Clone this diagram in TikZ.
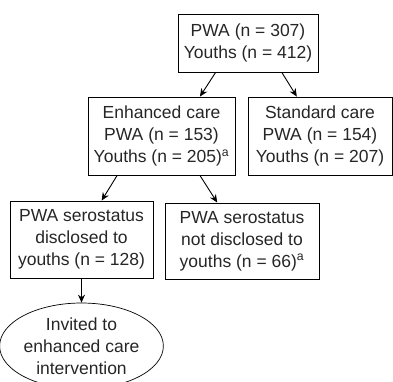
\documentclass[tikz,border=0pt]{standalone}
\usepackage{fontspec}
\setmainfont{Liberation Sans}
\usetikzlibrary{arrows.meta,calc,shapes.geometric}
\begin{document}
\begin{tikzpicture}[x=1pt,y=-1pt,
  every node/.style={font=\fontsize{17.5}{22}\selectfont, align=center, inner sep=0pt, text=black!85},
  box/.style={draw, line width=0.9pt, rectangle},
  oval/.style={draw, line width=0.7pt, ellipse},
  arr/.style={line width=0.9pt, -{Stealth[length=8pt,width=7pt]}}]
\useasboundingbox (0,0) rectangle (393,381);
\begin{scope}
\clip (0,0) rectangle (393,381);
\node[box, minimum width=140pt, minimum height=58pt] (top) at (248,43) {PWA (n = 307)\\Youths (n = 412)};
\node[box, minimum width=147pt, minimum height=78pt] (enh) at (161.5,136) {Enhanced care\\PWA (n = 153)\\Youths (n = 205)\textsuperscript{a}};
\node[box, minimum width=144pt, minimum height=78pt] (std) at (320,136) {Standard care\\PWA (n = 154)\\Youths (n = 207)};
\node[box, minimum width=143pt, minimum height=77pt] (dis) at (81.5,239.5) {PWA serostatus\\disclosed to\\youths (n = 128)};
\node[box, minimum width=154pt, minimum height=76pt] (nodis) at (242,241) {PWA serostatus\\not disclosed to\\youths (n = 66)\textsuperscript{a}};
\node[oval, minimum width=143pt, minimum height=86pt] (inv) at (81.5,346) {Invited to\\enhanced care\\intervention};
\coordinate (t1) at ($(top.south west)!0.27!(top.south east)$);
\coordinate (t2) at ($(top.south west)!0.74!(top.south east)$);
\coordinate (e1) at ($(enh.north west)!0.76!(enh.north east)$);
\coordinate (s1) at ($(std.north west)!0.34!(std.north east)$);
\coordinate (e2) at ($(enh.south west)!0.2!(enh.south east)$);
\coordinate (e3) at ($(enh.south west)!0.76!(enh.south east)$);
\coordinate (d1) at ($(dis.north west)!0.64!(dis.north east)$);
\coordinate (n1) at ($(nodis.north west)!0.34!(nodis.north east)$);
\draw[arr] (t1) -- (e1);
\draw[arr] (t2) -- (s1);
\draw[arr] (e2) -- (d1);
\draw[arr] (e3) -- (n1);
\draw[arr] (dis.south) -- (inv.north);
\end{scope}
\end{tikzpicture}
\end{document}
